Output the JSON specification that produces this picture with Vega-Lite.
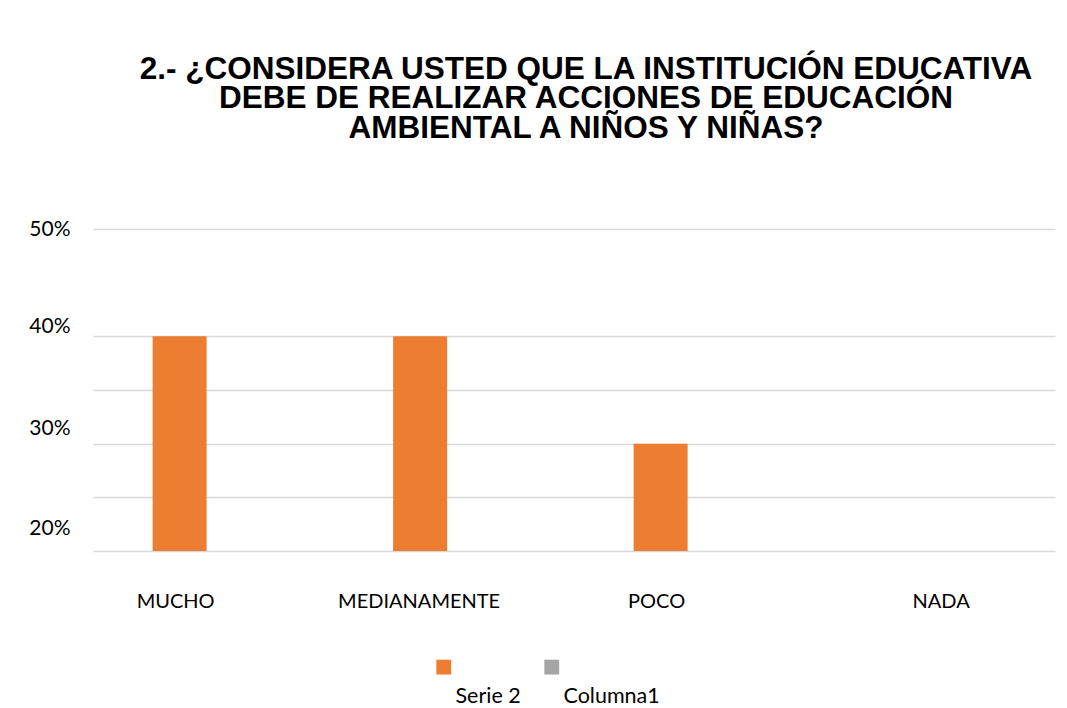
{
  "$schema": "https://vega.github.io/schema/vega-lite/v6.json",
  "autosize": "none",
  "width": 962,
  "height": 322,
  "padding": {"left": 93, "top": 229, "right": 12, "bottom": 157},
  "background": "white",
  "title": {
    "text": ["2.- ¿CONSIDERA USTED QUE LA INSTITUCIÓN EDUCATIVA", "DEBE DE REALIZAR ACCIONES DE EDUCACIÓN", "AMBIENTAL A NIÑOS Y NIÑAS?"],
    "font": "Liberation Sans",
    "fontWeight": "bold",
    "fontSize": 31.5,
    "lineHeight": 29.5,
    "color": "#000000",
    "anchor": "middle",
    "dx": 12,
    "offset": 74
  },
  "data": {
    "values": [
      {"categoria": "MUCHO", "serie": "Serie 2", "valor": 0.40},
      {"categoria": "MEDIANAMENTE", "serie": "Serie 2", "valor": 0.40},
      {"categoria": "POCO", "serie": "Serie 2", "valor": 0.30},
      {"categoria": "NADA", "serie": "Serie 2", "valor": 0},
      {"categoria": "MUCHO", "serie": "Columna1", "valor": null},
      {"categoria": "MEDIANAMENTE", "serie": "Columna1", "valor": null},
      {"categoria": "POCO", "serie": "Columna1", "valor": null},
      {"categoria": "NADA", "serie": "Columna1", "valor": null}
    ]
  },
  "mark": {"type": "bar", "clip": true},
  "encoding": {
    "x": {
      "field": "categoria",
      "type": "nominal",
      "sort": ["MUCHO", "MEDIANAMENTE", "POCO", "NADA"],
      "scale": {"paddingInner": 0.551, "paddingOuter": 0.2755, "align": 0.45},
      "axis": {
        "title": null,
        "labelAngle": 0,
        "domain": false,
        "ticks": false,
        "grid": false,
        "labelFont": "Lato",
        "labelFontSize": 20,
        "labelColor": "#000000",
        "labelPadding": 50,
        "labelBaseline": "middle",
        "labelOffset": {
          "condition": [
            {"test": "datum.value == 'MUCHO'", "value": -31},
            {"test": "datum.value == 'MEDIANAMENTE'", "value": -28},
            {"test": "datum.value == 'POCO'", "value": -31}
          ],
          "value": 13
        }
      }
    },
    "xOffset": {
      "field": "serie",
      "type": "nominal",
      "scale": {"domain": ["Serie 2", "Columna1"], "paddingInner": 0, "paddingOuter": 0}
    },
    "y": {
      "field": "valor",
      "type": "quantitative",
      "scale": {"domain": [0.2, 0.5], "nice": false, "zero": false},
      "axis": {
        "title": null,
        "values": [0.2, 0.25, 0.3, 0.35, 0.4, 0.5],
        "format": ".0%",
        "labelExpr": "datum.value == 0.25 || datum.value == 0.35 ? '' : datum.label",
        "domain": false,
        "ticks": false,
        "grid": true,
        "gridColor": "#D9D9D9",
        "gridWidth": 1.7,
        "labelFont": "Lato",
        "labelFontSize": 21,
        "labelColor": "#000000",
        "labelPadding": 23,
        "labelOffset": {
          "condition": [
            {"test": "datum.value == 0.2", "value": -23},
            {"test": "datum.value == 0.3", "value": -15},
            {"test": "datum.value == 0.4", "value": -10}
          ],
          "value": 0
        }
      }
    },
    "y2": {"datum": 0.2},
    "color": {
      "field": "serie",
      "type": "nominal",
      "scale": {"domain": ["Serie 2", "Columna1"], "range": ["#ED7D31", "#A5A5A5"]},
      "legend": {
        "title": null,
        "orient": "none",
        "direction": "horizontal",
        "legendX": 340,
        "legendY": 427,
        "padding": 0,
        "symbolType": "square",
        "symbolSize": 220,
        "symbolStrokeWidth": 0,
        "symbolOpacity": 1,
        "labelFont": "Lato",
        "labelFontSize": 21.5,
        "labelColor": "#000000",
        "labelOffset": 1,
        "columnPadding": 20,
        "labelBaseline": "middle",
        "encoding": {"labels": {"dy": {"value": 30}}}
      }
    }
  },
  "config": {"view": {"stroke": null}}
}
